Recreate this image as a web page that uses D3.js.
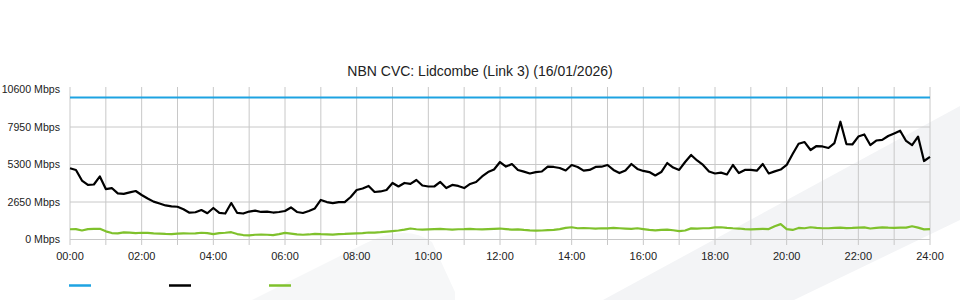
<!DOCTYPE html>
<html lang="en">
<head>
    <meta charset="UTF-8">
    <title>NBN CVC</title>
</head>
<style>
    body { margin: 0; background: #fff; }
    text { font-family: "Liberation Sans", Arial, sans-serif; fill: #222; }
    .grid line { stroke: #c8c8c8; stroke-width: 1px; shape-rendering: auto; }
    .series { fill: none; stroke-width: 2.2px; stroke-linejoin: round; }
</style>
<body>
<script src="https://d3js.org/d3.v7.min.js"></script>
<script>
    const width = 960, height = 300;

    const title = "NBN CVC: Lidcombe (Link 3) (16/01/2026)";
    const capacity = 10000;
    const yTicks = [0, 2650, 5300, 7950, 10600];
    const xTickHours = [0, 2, 4, 6, 8, 10, 12, 14, 16, 18, 20, 22, 24];
    const gridHours = d3.range(0, 25);
    const seriesColors = ["#1ea3e2", "#000000", "#7fc12c"];

    // 10 minute samples, 00:00 .. 24:00 (Mbps)
    const traffic = [
        5000, 4880, 4130, 3820, 3850, 4420, 3530, 3600, 3220, 3190, 3290, 3390,
        3110, 2860, 2640, 2510, 2370, 2310, 2280, 2100, 1860, 1890, 2050, 1820,
        2190, 1840, 1800, 2540, 1840, 1800, 1940, 2000, 1910, 1940, 1870, 1910,
        1980, 2230, 1910, 1840, 1980, 2160, 2760, 2610, 2540, 2610, 2610, 2970,
        3460, 3570, 3750, 3320, 3360, 3460, 3960, 3710, 3960, 3890, 4170, 3780,
        3710, 3710, 4030, 3600, 3820, 3750, 3600, 3890, 4030, 4420, 4730, 4910,
        5440, 5120, 5300, 4880, 4760, 4630, 4730, 4770, 5120, 5090, 5020, 4840,
        5230, 5090, 4830, 4880, 5090, 5110, 5230, 4880, 4660, 4840, 5300, 4950,
        4810, 4730, 4490, 4730, 5370, 5050, 4880, 5440, 5940, 5550, 5230, 4770,
        4630, 4690, 4560, 5230, 4660, 4880, 4880, 4830, 5300, 4630, 4780, 4910,
        5230, 6010, 6730, 6850, 6290, 6570, 6540, 6430, 6780, 8290, 6710, 6680,
        7240, 7390, 6640, 6960, 7000, 7280, 7460, 7650, 6930, 6640, 7240, 5510,
        5800
    ];
    const other = [
        690, 700, 600, 700, 720, 720, 540, 420, 400, 470, 450, 420,
        440, 430, 400, 380, 360, 350, 380, 400, 390, 400, 440, 420,
        350, 420, 440, 480, 350, 280, 250, 300, 310, 300, 280, 340,
        430, 380, 330, 300, 320, 360, 340, 330, 310, 350, 360, 380,
        400, 420, 460, 450, 480, 520, 560, 600, 660, 740, 690, 660,
        680, 700, 720, 690, 660, 690, 700, 720, 690, 680, 700, 720,
        740, 700, 660, 680, 640, 610, 590, 600, 630, 650, 700, 790,
        830, 760, 770, 760, 740, 760, 750, 780, 760, 740, 720, 760,
        700, 640, 610, 640, 660, 620, 560, 600, 750, 740, 760, 760,
        820, 830, 790, 760, 740, 700, 680, 700, 720, 700, 900, 1050,
        700, 640, 780, 760, 830, 780, 760, 760, 790, 800, 770, 780,
        800, 820, 740, 780, 820, 800, 790, 810, 800, 900, 800, 680,
        700
    ];

    const svg = d3.select("body").append("svg")
        .attr("width", width)
        .attr("height", height);

    // faint background decoration
    svg.append("path")
        .attr("d", "M252,300 L360,246 Q405,222 432,242 L455,292 L455,300 Z")
        .attr("fill", "#f6f7f8");
    svg.append("path")
        .attr("d", "M603,300 L960,106 L960,220 L794,300 Z")
        .attr("fill", "#f3f4f6");

    const x = d3.scaleLinear().domain([0, 24]).range([70, 930]);
    const y = d3.scaleLinear().domain([0, 10600]).range([239, 89]);

    const grid = svg.append("g").attr("class", "grid");
    grid.selectAll("line.v")
        .data(gridHours)
        .enter().append("line")
        .attr("class", "v")
        .attr("x1", d => x(d)).attr("x2", d => x(d))
        .attr("y1", y(10600) - 2).attr("y2", 245);
    grid.selectAll("line.h")
        .data(yTicks.filter(d => d < 10600))
        .enter().append("line")
        .attr("class", "h")
        .attr("x1", x(0)).attr("x2", x(24))
        .attr("y1", d => y(d) + 0.5).attr("y2", d => y(d) + 0.5);

    svg.append("g").selectAll("text")
        .data(yTicks)
        .enter().append("text")
        .attr("x", 60)
        .attr("y", d => y(d) + 4)
        .attr("text-anchor", "end")
        .style("font-size", "10.6px")
        .text(d => d + " Mbps");

    svg.append("g").selectAll("text")
        .data(xTickHours)
        .enter().append("text")
        .attr("x", d => x(d))
        .attr("y", 260)
        .attr("text-anchor", "middle")
        .style("font-size", "11px")
        .text(d => d3.format("02")(d) + ":00");

    svg.append("text")
        .attr("x", 480)
        .attr("y", 76)
        .attr("text-anchor", "middle")
        .style("font-size", "14px")
        .text(title);

    const hourOf = (d, i) => i * 10 / 60;
    const line = d3.line().x((d, i) => x(hourOf(d, i))).y(d => y(d));

    svg.append("line")
        .attr("class", "series")
        .attr("x1", x(0)).attr("x2", x(24))
        .attr("y1", y(capacity)).attr("y2", y(capacity))
        .style("stroke", seriesColors[0]);

    svg.append("path")
        .datum(other)
        .attr("class", "series")
        .attr("d", line)
        .style("stroke", seriesColors[2]);

    svg.append("path")
        .datum(traffic)
        .attr("class", "series")
        .attr("d", line)
        .style("stroke", seriesColors[1]);

    // legend swatches (no labels)
    svg.append("g").selectAll("line")
        .data(seriesColors)
        .enter().append("line")
        .attr("x1", (d, i) => 69 + i * 100)
        .attr("x2", (d, i) => 91 + i * 100)
        .attr("y1", 285.5).attr("y2", 285.5)
        .style("stroke", d => d)
        .style("stroke-width", "2.5px");
</script>
</body>
</html>
